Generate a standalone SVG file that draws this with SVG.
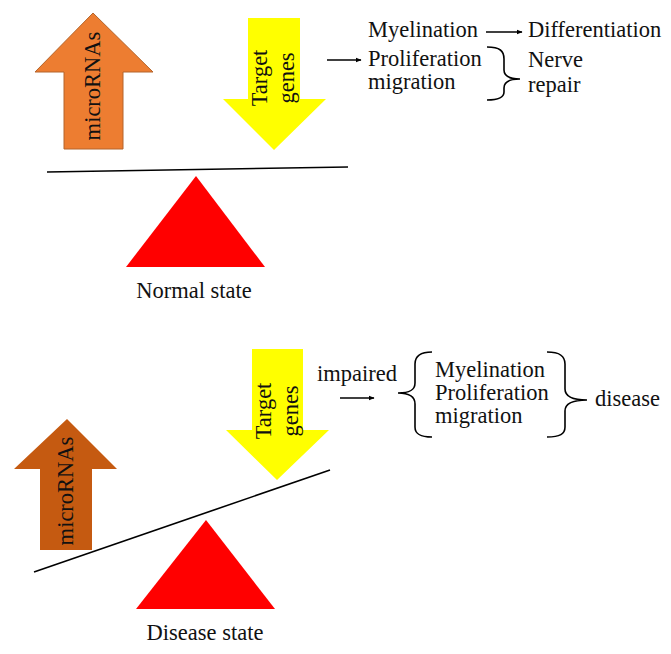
<svg xmlns="http://www.w3.org/2000/svg" width="671" height="654" viewBox="0 0 671 654">
<defs>
<style>
text{font-family:"Liberation Serif","Times New Roman",serif;font-size:22.5px;fill:#111}
.c{text-anchor:middle}
.ln{stroke:#000;stroke-width:1.6;fill:none}
.br{stroke:#000;stroke-width:1.6;fill:none}
.ar{stroke:#000;stroke-width:1.5;fill:none;marker-end:url(#ah)}
</style>
<marker id="ah" viewBox="0 0 10 10" refX="9" refY="5" markerWidth="6" markerHeight="6" markerUnits="userSpaceOnUse" orient="auto">
<path d="M0,1 L10,5 L0,9 Z" fill="#000"/>
</marker>
</defs>
<rect width="671" height="654" fill="#fff"/>

<g id="normal-mirna">
<polygon points="93,13 153,72 123,72 123,149 64,149 64,72 35,72" fill="#ED7D31" stroke="#B4652C" stroke-width="1"/>
<text class="c" transform="translate(100,86) rotate(-90)">microRNAs</text>
</g>
<g id="normal-target">
<polygon points="248,18 300,18 300,99 326,99 274,150 223,99 248,99" fill="#FFFF00"/>
<text class="c" transform="translate(267,78) rotate(-90)">Target</text>
<text class="c" transform="translate(294,78) rotate(-90)">genes</text>
</g>
<g id="normal-fulcrum">
<polygon points="196,176 265,267 126,267" fill="#FF0000"/>
<text class="c" x="194" y="298">Normal state</text>
</g>
<g id="normal-labels">
<text x="368" y="37">Myelination</text>
<text x="528" y="37">Differentiation</text>
<text x="368" y="66">Proliferation</text>
<text x="368" y="89">migration</text>
<text x="528" y="67">Nerve</text>
<text x="528" y="92">repair</text>
</g>

<g id="disease-mirna">
<polygon points="67,419 117,469 92,469 92,550 40,550 40,469 14,469" fill="#C55A11"/>
<text class="c" transform="translate(73,491) rotate(-90)">microRNAs</text>
</g>
<g id="disease-target">
<polygon points="252,349 303,349 303,430 329,430 277,480 226,430 252,430" fill="#FFFF00"/>
<text class="c" transform="translate(271,411) rotate(-90)">Target</text>
<text class="c" transform="translate(298,411) rotate(-90)">genes</text>
</g>
<g id="disease-fulcrum">
<polygon points="206,520 275,609 136,609" fill="#FF0000"/>
<text class="c" x="205" y="640">Disease state</text>
</g>
<g id="disease-labels">
<text x="317" y="381">impaired</text>
<text x="435" y="377">Myelination</text>
<text x="435" y="400">Proliferation</text>
<text x="435" y="423">migration</text>
<text x="595" y="406">disease</text>
</g>

<g id="connectors">
<line class="ln" x1="47" y1="172" x2="348" y2="167"/>
<line class="ln" x1="34" y1="572" x2="330" y2="470"/>
<line class="ar" x1="327" y1="60" x2="361" y2="60"/>
<line class="ar" x1="486" y1="32" x2="522" y2="32"/>
<line class="ar" x1="340" y1="398" x2="374" y2="398"/>
<path class="br" d="M487,47 C500,47 504,51 504,59 L504,70 C504,76 509,79 520,79 C509,79 504,82 504,88 L504,92 C504,97 500,100 487,100"/>
<path class="br" d="M432,352 C420,352 415,356 415,364 L415,383 C415,390 410,393 398,393 C410,393 415,397 415,404 L415,427 C415,434 420,437 432,437"/>
<path class="br" d="M547,352 C560,352 565,356 565,364 L565,389 C565,396 572,400 587,400 C572,400 565,404 565,411 L565,427 C565,434 560,437 547,437"/>
</g>
</svg>
